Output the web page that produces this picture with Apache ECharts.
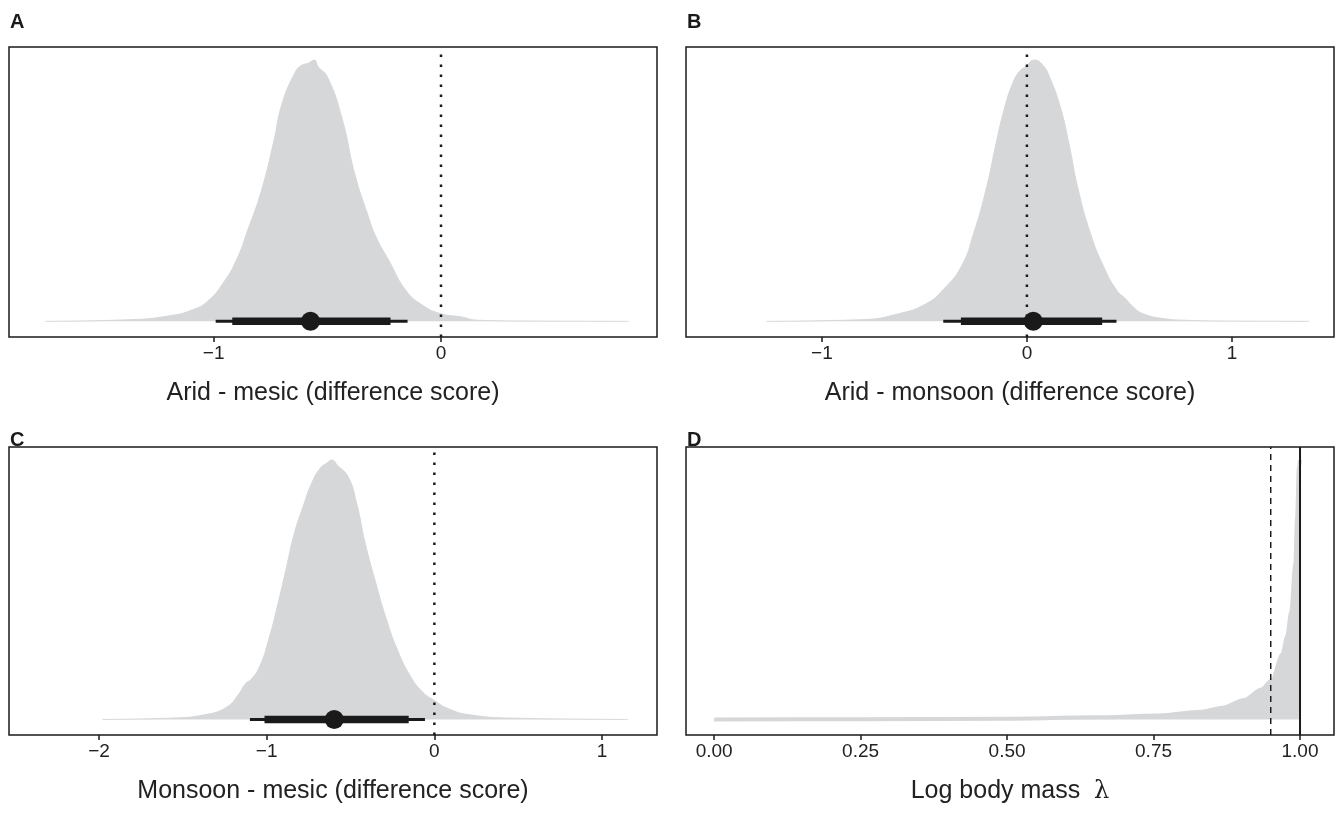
<!DOCTYPE html>
<html lang="en">
<head>
    <meta charset="UTF-8">
    <title>Difference scores</title>
    <style>
        html, body { margin: 0; padding: 0; width: 100%; height: 100%; background: #fff; }
        #chart { width: 1343px; height: 838px; }
    </style>
</head>
<body>
<div id="chart"></div>
<script src="https://cdn.jsdelivr.net/npm/echarts@6/dist/echarts.min.js"></script>
<script type="text/javascript">
    // panel A: arid - mesic
    var aX = [-1.74, -1.37, -1.18, -1.09, -1.03, -0.96, -0.90, -0.85, -0.79, -0.735, -0.70, -0.64, -0.613, -0.585, -0.557, -0.54, -0.50, -0.435, -0.38, -0.323, -0.286, -0.23, -0.155, -0.08, 0, 0.088, 0.163, 0.4, 0.826];
    var aY = [0, 0.006, 0.023, 0.045, 0.074, 0.144, 0.234, 0.349, 0.50, 0.69, 0.83, 0.955, 0.98, 0.987, 1.0, 0.974, 0.936, 0.776, 0.566, 0.41, 0.323, 0.234, 0.119, 0.061, 0.029, 0.017, 0.004, 0.001, 0];
    var aInt = [-0.991, -0.918, -0.574, -0.222, -0.147]; // lo95, lo66, median, hi66, hi95

    // panel B: arid - monsoon
    var bX = [-1.27, -0.81, -0.62, -0.49, -0.41, -0.32, -0.26, -0.196, -0.154, -0.112, -0.07, -0.038, -0.006, 0.036, 0.078, 0.11, 0.163, 0.205, 0.247, 0.31, 0.374, 0.437, 0.48, 0.511, 0.564, 0.67, 0.775, 1.0, 1.377];
    var bY = [0, 0.006, 0.03, 0.068, 0.12, 0.21, 0.336, 0.515, 0.668, 0.808, 0.91, 0.955, 0.975, 1.0, 0.98, 0.936, 0.82, 0.68, 0.515, 0.336, 0.21, 0.12, 0.087, 0.061, 0.03, 0.01, 0.004, 0.001, 0];
    var bInt = [-0.408, -0.322, 0.031, 0.367, 0.437];

    // panel C: monsoon - mesic
    var cX = [-1.98, -1.57, -1.37, -1.24, -1.166, -1.128, -1.09, -1.04, -0.987, -0.936, -0.885, -0.834, -0.783, -0.732, -0.681, -0.643, -0.61, -0.579, -0.515, -0.464, -0.413, -0.35, -0.286, -0.222, -0.145, -0.069, 0, 0.084, 0.21, 0.467, 1.156];
    var cY = [0, 0.005, 0.018, 0.047, 0.098, 0.137, 0.156, 0.207, 0.31, 0.437, 0.578, 0.72, 0.82, 0.91, 0.968, 0.987, 1.0, 0.98, 0.936, 0.834, 0.68, 0.527, 0.386, 0.271, 0.169, 0.105, 0.073, 0.041, 0.018, 0.005, 0];
    var cInt = [-1.10, -1.013, -0.597, -0.153, -0.056];

    // panel D: log body mass lambda
    var dX = [0, 0.25, 0.505, 0.65, 0.76, 0.832, 0.868, 0.905, 0.934, 0.952, 0.97, 0.978, 0.985, 0.992, 0.995, 0.998, 1.0];
    var dY = [0, 0.001, 0.003, 0.008, 0.015, 0.03, 0.045, 0.075, 0.115, 0.15, 0.25, 0.32, 0.415, 0.60, 0.78, 0.97, 1.0];

    var aTicks = [-1, 0];
    var bTicks = [-1, 0, 1];
    var cTicks = [-2, -1, 0, 1];
    var dTicks = [0, 0.25, 0.5, 0.75, 1];

    var ink = '#1a1a1a';
    var slab = '#d6d7d9';
    var font = '"Liberation Sans", Arial, Helvetica, sans-serif';

    function pairs(xs, ys) {
        var out = [];
        for (var i = 0; i < xs.length; i++) out.push([xs[i], ys[i]]);
        return out;
    }
    function fmtMinus(v) {
        return v < 0 ? '\u2212' + Math.abs(v) : String(v);
    }

    var grids = [
        {left: 9, top: 47, width: 648, height: 290},
        {left: 686, top: 47, width: 648, height: 290},
        {left: 9, top: 447, width: 648, height: 288},
        {left: 686, top: 447, width: 648, height: 288}
    ];
    grids.forEach(function (g) {
        g.show = true;
        g.borderColor = ink;
        g.borderWidth = 1.5;
        g.backgroundColor = '#fff';
    });

    function xAxisOf(idx, min, max, ticks, name, fmt) {
        return {
            type: 'value', gridIndex: idx, min: min, max: max,
            splitLine: {show: false},
            axisLine: {show: false, onZero: false},
            axisTick: {show: true, length: 5, lineStyle: {color: ink, width: 1.5}, customValues: ticks},
            axisLabel: {color: '#222', fontSize: 19, fontFamily: font, margin: 7, customValues: ticks, formatter: fmt},
            name: name, nameLocation: 'middle', nameGap: 44,
            nameTextStyle: {color: '#222', fontSize: 25, fontFamily: font,
                rich: {l: {fontFamily: '"DejaVu Serif", serif', fontSize: 24, color: '#222'}}}
        };
    }
    function yAxisOf(idx) {
        return {type: 'value', gridIndex: idx, min: -0.06, max: 1.05, show: false};
    }

    function slabSeries(idx, xs, ys, lineW, mono) {
        return {
            type: 'line', xAxisIndex: idx, yAxisIndex: idx,
            data: pairs(xs, ys), smooth: mono ? 0.3 : 0.5, smoothMonotone: mono ? 'x' : null,
            symbol: 'none', silent: true,
            lineStyle: {color: slab, width: lineW},
            areaStyle: {color: slab, opacity: 1}
        };
    }
    function intervalSeries(idx, iv) {
        return [
            {type: 'line', xAxisIndex: idx, yAxisIndex: idx, symbol: 'none', silent: true, z: 4,
                data: [[iv[0], 0], [iv[4], 0]], lineStyle: {color: ink, width: 3}},
            {type: 'line', xAxisIndex: idx, yAxisIndex: idx, symbol: 'none', silent: true, z: 4,
                data: [[iv[1], 0], [iv[3], 0]], lineStyle: {color: ink, width: 7.5}},
            {type: 'scatter', xAxisIndex: idx, yAxisIndex: idx, silent: true, z: 6,
                data: [[iv[2], 0]], symbolSize: 19, itemStyle: {color: ink, opacity: 1}}
        ];
    }
    function vline(idx, x, type, width) {
        return {
            type: 'line', xAxisIndex: idx, yAxisIndex: idx, symbol: 'none', silent: true, z: 3,
            data: [[x, -0.06], [x, 1.05]], lineStyle: {color: ink, width: width, type: type}
        };
    }

    var series = [];
    series.push(slabSeries(0, aX, aY, 1, false));
    series.push(vline(0, 0, [2.5, 7.5], 2.5));
    series = series.concat(intervalSeries(0, aInt));

    series.push(slabSeries(1, bX, bY, 1, false));
    series.push(vline(1, 0, [2.5, 7.5], 2.5));
    series = series.concat(intervalSeries(1, bInt));

    series.push(slabSeries(2, cX, cY, 1, false));
    series.push(vline(2, 0, [2.5, 7.5], 2.5));
    series = series.concat(intervalSeries(2, cInt));

    series.push(slabSeries(3, dX, dY, 4, true));
    series.push(vline(3, 0.95, [6, 5], 1.5));
    series.push(vline(3, 1, 'solid', 2));

    var labelStyle = {fontSize: 20, fontWeight: 'bold', fontFamily: font, color: ink};
    var option = {
        animation: false,
        backgroundColor: '#fff',
        title: [
            {text: 'A', left: 5, top: 7, textStyle: labelStyle},
            {text: 'B', left: 682, top: 7, textStyle: labelStyle},
            {text: 'C', left: 5, top: 425, textStyle: labelStyle},
            {text: 'D', left: 682, top: 425, textStyle: labelStyle}
        ],
        grid: grids,
        xAxis: [
            xAxisOf(0, -1.9, 0.95, aTicks, 'Arid - mesic (difference score)', fmtMinus),
            xAxisOf(1, -1.663, 1.498, bTicks, 'Arid - monsoon (difference score)', fmtMinus),
            xAxisOf(2, -2.537, 1.328, cTicks, 'Monsoon - mesic (difference score)', fmtMinus),
            xAxisOf(3, -0.048, 1.058, dTicks, 'Log body mass  {l|\u03bb}', function (v) { return v.toFixed(2); })
        ],
        yAxis: [yAxisOf(0), yAxisOf(1), yAxisOf(2), yAxisOf(3)],
        series: series
    };

    var myChart = echarts.init(document.getElementById('chart'));
    myChart.setOption(option);
</script>
</body>
</html>
